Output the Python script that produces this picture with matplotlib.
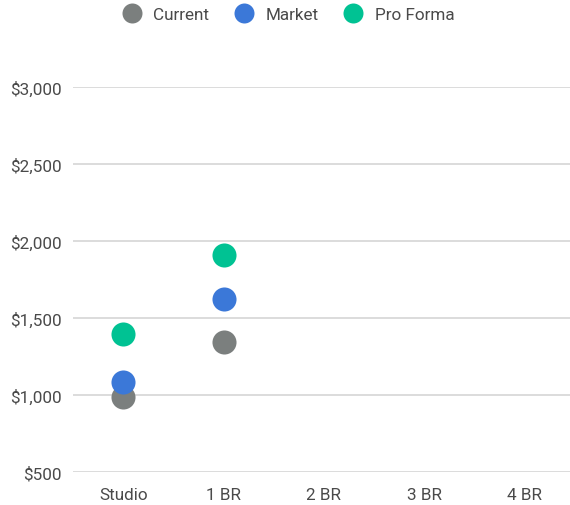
import matplotlib
matplotlib.use("Agg")
import matplotlib.pyplot as plt
from matplotlib.lines import Line2D
from matplotlib.ticker import FuncFormatter

plt.rcParams['font.family'] = ['Roboto', 'DejaVu Sans']

# data
categories = ['Studio', '1 BR', '2 BR', '3 BR', '4 BR']
series_names = ['Current', 'Market', 'Pro Forma']
current = [985, 1345, None, None, None]
market = [1085, 1625, None, None, None]
pro_forma = [1395, 1910, None, None, None]
yticks = [500, 1000, 1500, 2000, 2500, 3000]

colors = ['#7b7f7e', '#3b78d8', '#00c293']
text_col = '#4a4a4a'

fig = plt.figure(figsize=(5.70, 5.06), dpi=100)
ax = fig.add_axes([73/570, 33/506, 502/570, 385/506])

for name, vals, c in zip(series_names, [current, market, pro_forma], colors):
    xs = [i for i, v in enumerate(vals) if v is not None]
    ys = [v for v in vals if v is not None]
    ax.scatter(xs, ys, s=300, color=c, linewidths=0, zorder=3, label=name)

ax.set_xlim(-0.5, 4.5)
ax.set_ylim(500, 3000)
ax.set_xticks(range(len(categories)))
ax.set_xticklabels(categories)
ax.set_yticks(yticks)
ax.yaxis.set_major_formatter(FuncFormatter(lambda v, p: '${:,.0f}'.format(v)))
ax.tick_params(axis='both', length=0, labelsize=12.3, colors=text_col)
ax.tick_params(axis='y', pad=8)
ax.tick_params(axis='x', pad=11)
ax.grid(axis='y', color='#dcdcdc', linewidth=1.4, zorder=0)
for s in ax.spines.values():
    s.set_visible(False)
ax.set_axisbelow(True)

handles = [Line2D([], [], marker='o', linestyle='', markersize=14.4, color=c,
                  markeredgewidth=0) for c in colors]
fig.legend(handles, series_names, loc='upper center', ncol=3,
           bbox_to_anchor=(0.505, 1.015), frameon=False, fontsize=12.3,
           labelcolor=text_col, handletextpad=0.65, columnspacing=1.45,
           handlelength=1.2)

fig.savefig('out.png', dpi=100)
